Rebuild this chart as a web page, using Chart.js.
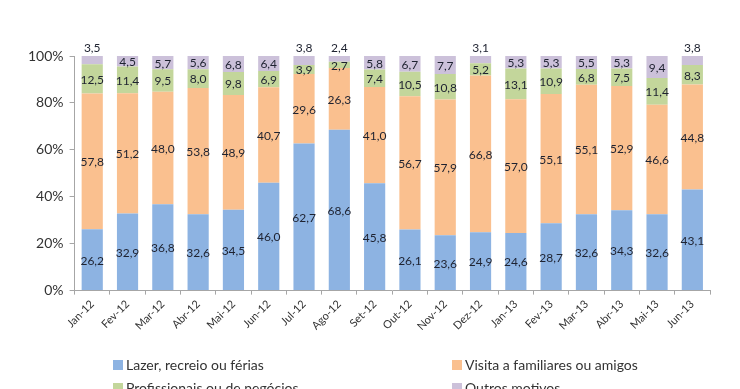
<!DOCTYPE html>
<html>
<head>
<meta charset="utf-8">
<script src="https://cdn.jsdelivr.net/npm/chart.js@4/dist/chart.umd.min.js"></script>
<style>
  html, body { margin: 0; padding: 0; background: #fff; }
  #wrap { width: 740px; height: 389px; }
</style>
</head>
<body>
<div id="wrap"><canvas id="chart"></canvas></div>
<script>
const months = ['Jan-12', 'Fev-12', 'Mar-12', 'Abr-12', 'Mai-12', 'Jun-12', 'Jul-12', 'Ago-12', 'Set-12',
  'Out-12', 'Nov-12', 'Dez-12', 'Jan-13', 'Fev-13', 'Mar-13', 'Abr-13', 'Mai-13', 'Jun-13'];
const lazer = [26.2, 32.9, 36.8, 32.6, 34.5, 46.0, 62.7, 68.6, 45.8, 26.1, 23.6, 24.9, 24.6, 28.7, 32.6, 34.3, 32.6, 43.1];
const visita = [57.8, 51.2, 48.0, 53.8, 48.9, 40.7, 29.6, 26.3, 41.0, 56.7, 57.9, 66.8, 57.0, 55.1, 55.1, 52.9, 46.6, 44.8];
const profissionais = [12.5, 11.4, 9.5, 8.0, 9.8, 6.9, 3.9, 2.7, 7.4, 10.5, 10.8, 5.2, 13.1, 10.9, 6.8, 7.5, 11.4, 8.3];
const outros = [3.5, 4.5, 5.7, 5.6, 6.8, 6.4, 3.8, 2.4, 5.8, 6.7, 7.7, 3.1, 5.3, 5.3, 5.5, 5.3, 9.4, 3.8];
const seriesNames = ['Lazer, recreio ou férias', 'Visita a familiares ou amigos', 'Profissionais ou de negócios', 'Outros motivos'];
const yTicks = [0, 20, 40, 60, 80, 100];

const colors = ['#8db3e2', '#fac08f', '#c3d69b', '#ccc1da'];
const fontFamily = 'Lato, "Liberation Sans", sans-serif';

// value labels inside each segment; small top ones go above the bar
const segmentLabels = {
  id: 'segmentLabels',
  afterDatasetsDraw(chart) {
    const ctx = chart.ctx;
    ctx.save();
    ctx.font = '12px ' + fontFamily;
    ctx.fillStyle = '#1e2230';
    ctx.textAlign = 'center';
    ctx.textBaseline = 'middle';
    chart.data.datasets.forEach((ds, i) => {
      chart.getDatasetMeta(i).data.forEach((bar, j) => {
        const v = ds.data[j];
        const text = v.toFixed(1).replace('.', ',');
        let y = (bar.y + bar.base) / 2;
        if (i === 3 && v < 4) y = bar.y - 9;
        ctx.fillText(text, bar.x, y + 1);
      });
    });
    ctx.restore();
  }
};

// two-column legend under the axis
const gridLegend = {
  id: 'gridLegend',
  afterDraw(chart) {
    const ctx = chart.ctx;
    const cols = [113, 452];
    const rows = [365, 388];
    ctx.save();
    ctx.font = '14px ' + fontFamily;
    ctx.textBaseline = 'middle';
    chart.data.datasets.forEach((ds, i) => {
      const x = cols[i % 2];
      const y = rows[Math.floor(i / 2)];
      ctx.fillStyle = ds.backgroundColor;
      ctx.fillRect(x, y - 5, 10, 10);
      ctx.fillStyle = '#333333';
      ctx.fillText(ds.label, x + 13, y);
    });
    ctx.restore();
  }
};

new Chart(document.getElementById('chart'), {
  type: 'bar',
  data: {
    labels: months,
    datasets: [lazer, visita, profissionais, outros].map((d, i) => ({
      label: seriesNames[i],
      data: d,
      backgroundColor: colors[i],
      borderWidth: 0,
      barPercentage: 0.6,
      categoryPercentage: 1.0
    }))
  },
  options: {
    responsive: true,
    maintainAspectRatio: false,
    animation: false,
    layout: { padding: { top: 56, left: 22, right: 30, bottom: 53 } },
    plugins: {
      legend: { display: false },
      tooltip: { enabled: false }
    },
    scales: {
      x: {
        stacked: true,
        grid: { display: true, drawOnChartArea: false, tickLength: 4, color: '#a6a6a6' },
        border: { color: '#a6a6a6' },
        ticks: {
          minRotation: 45,
          maxRotation: 45,
          color: '#333333',
          font: { family: fontFamily, size: 11 }
        }
      },
      y: {
        stacked: true,
        min: 0,
        max: 100,
        afterBuildTicks(axis) { axis.ticks = yTicks.map(v => ({ value: v })); },
        grid: { display: true, drawOnChartArea: false, tickLength: 5, color: '#a6a6a6' },
        border: { color: '#a6a6a6' },
        ticks: {
          padding: 6,
          color: '#333333',
          font: { family: fontFamily, size: 14 },
          callback: v => v + '%'
        }
      }
    }
  },
  plugins: [segmentLabels, gridLegend]
});
</script>
</body>
</html>
